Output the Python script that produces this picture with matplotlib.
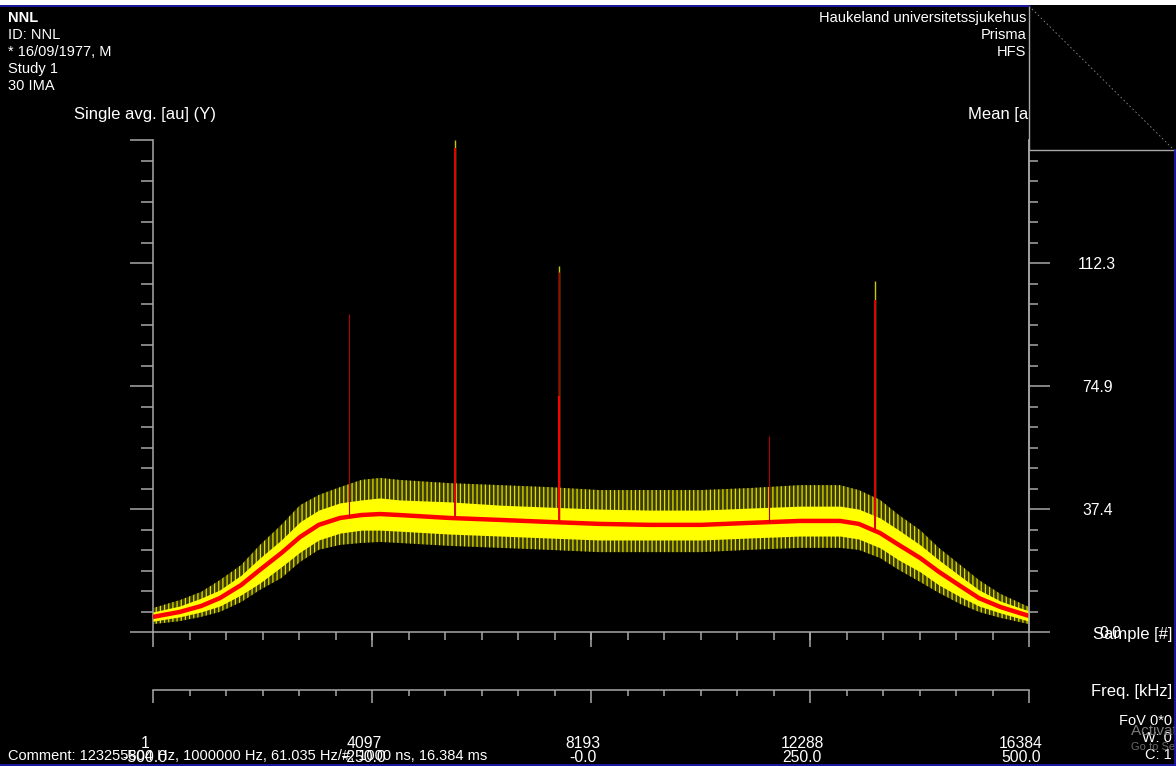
import numpy as np
import matplotlib
matplotlib.use("Agg")
import matplotlib.pyplot as plt
from matplotlib.patches import Rectangle
from matplotlib.lines import Line2D
from matplotlib.ticker import FixedLocator, NullFormatter
from matplotlib.transforms import ScaledTranslation

plt.rcParams['font.family'] = ['Liberation Sans', 'DejaVu Sans']
plt.rcParams['hatch.linewidth'] = 0.9

W, H = 1176, 766

# ---- data -------------------------------------------------------------
sample_pts = [1, 500, 900, 1250, 1650, 2000, 2400, 2750, 3100, 3500, 3900,
              4250, 4600, 5550, 6500, 7400, 8350, 9300, 10250, 11150, 12100,
              12850, 13200, 13600, 13950, 14350, 14700, 15100, 15450, 15850,
              16384]
mean_vals = [4.6, 6.1, 7.9, 10.3, 14.3, 18.9, 24.0, 28.9, 32.6, 34.7, 35.6,
             35.9, 35.6, 34.7, 34.1, 33.5, 32.9, 32.6, 32.6, 33.2, 33.8,
             33.8, 32.9, 30.1, 26.5, 22.5, 18.3, 14.0, 10.3, 7.6, 4.9]
single_core_hi = [6.1, 7.9, 10.3, 12.8, 17.3, 22.5, 28.0, 33.5, 37.1, 39.3, 40.2,
                  40.8, 40.2, 39.6, 38.6, 38.0, 37.4, 37.1, 37.1, 37.7, 38.3,
                  38.3, 37.4, 34.7, 31.0, 26.5, 21.9, 17.0, 12.8, 9.4, 6.4]
single_core_lo = [3.3, 4.6, 6.1, 7.9, 11.3, 14.9, 19.8, 24.3, 28.0, 30.1, 31.0,
                  31.0, 30.7, 29.8, 29.2, 28.6, 28.0, 28.0, 28.0, 28.6, 29.2,
                  29.2, 28.3, 25.6, 21.9, 18.3, 14.3, 10.7, 7.9, 5.8, 3.3]
single_max = [7.3, 9.7, 12.2, 15.8, 20.4, 26.5, 32.6, 38.6, 41.7, 44.1, 46.3,
              46.9, 46.3, 45.3, 44.7, 44.1, 43.2, 43.2, 43.2, 43.8, 44.7,
              44.7, 43.2, 40.2, 35.6, 31.0, 25.6, 20.4, 15.8, 11.6, 7.6]
single_min = [2.4, 3.3, 4.6, 6.1, 9.1, 12.8, 16.4, 21.3, 25.0, 26.5, 27.1,
              27.4, 27.1, 26.2, 25.6, 25.0, 24.3, 24.3, 24.3, 25.0, 25.6,
              25.6, 25.0, 22.5, 18.9, 15.2, 11.9, 8.5, 6.1, 4.3, 2.4]

# isolated outliers
single_spike_samples = [5649, 7594, 13504]
single_spike_vals = [149.7, 111.4, 106.8]
mean_spike_samples = [3667, 5649, 7594, 7600, 11522, 13504]
mean_spike_vals = [96.8, 147.3, 109.5, 71.8, 59.6, 101.0]

sample_ticks = [1, 4097, 8193, 12288, 16384]
sample_labels = ['1', '4097', '8193', '12288', '16384']
freq_ticks = [-500, -250, 0, 250, 500]
freq_labels = ['-500.0', '-250.0', '-0.0', '250.0', '500.0']
y_major = [0.0, 37.43, 74.86, 112.29, 149.72]
y_labels = ['0.0', '37.4', '74.9', '112.3', '']

header_left = ['NNL', 'ID: NNL', '* 16/09/1977, M', 'Study 1', '30 IMA']
header_right = ['Haukeland universitetssjukehus', 'Prisma', 'HFS']
footer_right = ['FoV 0*0', 'W: 0', 'C: 1']
comment = 'Comment: 123255804 Hz, 1000000 Hz, 61.035 Hz/#, 1000 ns, 16.384 ms'

# ---- helpers ----------------------------------------------------------
def fx(x):
    return x / W


def fy(y):
    return 1 - y / H


GREY = '#a8a8a8'
BLUE = '#1a1aa8'

fig = plt.figure(figsize=(W / 100, H / 100), dpi=100, facecolor='black')


def shift_px(artist, dx, dy=0):
    artist.set_transform(artist.get_transform() +
                         ScaledTranslation(dx / 100, dy / 100,
                                           fig.dpi_scale_trans))


# ---- main plot --------------------------------------------------------
ax = fig.add_axes([fx(153), fy(632), (1029 - 153) / W, (632 - 140) / H])
ax.set_facecolor('black')
ax.set_xlim(1, 16384)
ax.set_ylim(0, 149.72)

# noisy single-average trace: sparse outer envelope + dense core
ax.fill_between(sample_pts, single_min, single_max, facecolor='#3c3c00',
                edgecolor='#e0e000', hatch='||||', lw=0, zorder=2)
ax.fill_between(sample_pts, single_core_lo, single_core_hi, color='#ffff00',
                lw=0, zorder=3)

base_single = np.interp(single_spike_samples, sample_pts, mean_vals)
ax.vlines(single_spike_samples, base_single, single_spike_vals,
          color='#c8c800', lw=1.0, zorder=4)

ax.plot(sample_pts, mean_vals, color='#ff0000', lw=3.2, zorder=5,
        solid_capstyle='butt')

base_mean = np.interp(mean_spike_samples, sample_pts, mean_vals)
mean_spike_lw = [0.8, 1.4, 1.0, 1.4, 0.8, 1.4]
mean_spike_col = ['#b00000', '#e00000', '#b00000', '#ff0000', '#b00000', '#e00000']
ax.vlines(mean_spike_samples, base_mean, mean_spike_vals,
          color=mean_spike_col, lw=mean_spike_lw, zorder=6)

ax.spines['top'].set_visible(False)
for s in ['left', 'bottom', 'right']:
    ax.spines[s].set_color(GREY)
    ax.spines[s].set_linewidth(1.1)

ax.xaxis.set_major_locator(FixedLocator(sample_ticks))
ax.xaxis.set_minor_locator(FixedLocator(np.linspace(1, 16384, 25)))
ax.set_xticklabels(sample_labels)
ax.yaxis.set_major_locator(FixedLocator(y_major))
ax.yaxis.set_minor_locator(FixedLocator(np.linspace(0, 149.72, 25)))
ax.yaxis.set_major_formatter(NullFormatter())

ax.tick_params(axis='x', which='major', direction='out', length=10.8,
               width=1.1, color=GREY, labelcolor='white', labelsize=11.3,
               pad=64)
ax.tick_params(axis='x', which='minor', direction='out', length=5.8,
               width=1.1, color=GREY)
ax.tick_params(axis='y', which='major', direction='out', length=16.6,
               width=1.1, color=GREY)
ax.tick_params(axis='y', which='minor', direction='out', length=8.6,
               width=1.1, color=GREY)
for lab in ax.get_xticklabels():
    shift_px(lab, -8)

axr = ax.twinx()
axr.set_ylim(0, 149.72)
for s in ['top', 'left', 'bottom']:
    axr.spines[s].set_visible(False)
axr.spines['right'].set_color(GREY)
axr.spines['right'].set_linewidth(1.1)
axr.yaxis.set_major_locator(FixedLocator(y_major))
axr.yaxis.set_minor_locator(FixedLocator(np.linspace(0, 149.72, 25)))
axr.set_yticklabels(y_labels)
axr.tick_params(axis='y', which='major', direction='out', length=15.1,
                width=1.1, color=GREY, labelcolor='white', labelsize=11.3,
                pad=34)
for lab in axr.get_yticklabels():
    lab.set_horizontalalignment('center')
shift_px(axr.get_yticklabels()[0], 13)
axr.tick_params(axis='y', which='minor', direction='out', length=6.5,
                width=1.1, color=GREY)

# ---- frequency axis ---------------------------------------------------
axf = fig.add_axes([fx(153), fy(690), 876 / W, 0.0005])
axf.set_facecolor('none')
axf.set_xlim(-500, 500)
axf.set_yticks([])
for s in ['top', 'left', 'right']:
    axf.spines[s].set_visible(False)
axf.spines['bottom'].set_color(GREY)
axf.spines['bottom'].set_linewidth(1.1)
axf.xaxis.set_major_locator(FixedLocator(freq_ticks))
axf.xaxis.set_minor_locator(FixedLocator(np.linspace(-500, 500, 25)))
axf.set_xticklabels(freq_labels)
axf.tick_params(axis='x', which='major', direction='out', length=9.4,
                width=1.1, color=GREY, labelcolor='white', labelsize=11.3,
                pad=34)
axf.tick_params(axis='x', which='minor', direction='out', length=4.3,
                width=1.1, color=GREY)
for lab in axf.get_xticklabels():
    shift_px(lab, -8)

# ---- annotation text --------------------------------------------------
TS = 10.5
for i, line in enumerate(header_left):
    fig.text(fx(8), fy(22 + 17 * i), line, color='white', fontsize=TS,
             fontweight='bold' if i == 0 else 'normal', va='baseline')
for i, line in enumerate(header_right):
    fig.text(fx(1026), fy(22 + 17 * i), line, color='white', fontsize=TS,
             ha='right', va='baseline')

fig.text(fx(74), fy(119), 'Single avg. [au] (Y)', color='white', fontsize=12,
         va='baseline')
fig.text(fx(968), fy(119), 'Mean [au] (Y)', color='white', fontsize=12,
         va='baseline')
fig.text(fx(1172), fy(639), 'Sample [#]', color='white', fontsize=12,
         ha='right', va='baseline')
fig.text(fx(1172), fy(696), 'Freq. [kHz]', color='white', fontsize=12,
         ha='right', va='baseline')
for i, line in enumerate(footer_right):
    fig.text(fx(1172), fy(725 + 17 * i), line, color='white', fontsize=TS,
             ha='right', va='baseline')
fig.text(fx(1131), fy(735), 'Activate Windows', color='#7a7a7a',
         fontsize=11, va='baseline', zorder=20)
fig.text(fx(1131), fy(750), 'Go to Settings to activate Windows.',
         color='#6a6a6a', fontsize=8, va='baseline', zorder=20)
fig.text(fx(8), fy(760), comment, color='white', fontsize=TS, va='baseline',
         zorder=15)

# ---- frame decorations ------------------------------------------------
fig.patches.append(Rectangle((0, fy(5)), 1, 5 / H, transform=fig.transFigure,
                             facecolor='white', edgecolor='none', zorder=30))
fig.patches.append(Rectangle((fx(1029), fy(150)), (W - 1029) / W, 144 / H,
                             transform=fig.transFigure, facecolor='black',
                             edgecolor='none', zorder=25))
fig.lines.append(Line2D([fx(1029), fx(1029), fx(1176)],
                        [fy(6), fy(150), fy(150)], transform=fig.transFigure,
                        color=GREY, lw=1.0, zorder=26))
fig.lines.append(Line2D([fx(1029), fx(1174)], [fy(6), fy(150)],
                        transform=fig.transFigure, color='#8a8a8a', lw=0.6,
                        ls=(0, (2, 3)), zorder=26))
fig.lines.append(Line2D([0, fx(1029)], [fy(5.8), fy(5.8)],
                        transform=fig.transFigure, color=BLUE, lw=1.3,
                        zorder=31))
fig.lines.append(Line2D([0, 1], [fy(765), fy(765)], transform=fig.transFigure,
                        color=BLUE, lw=1.3, zorder=31))
fig.lines.append(Line2D([fx(1175), fx(1175)], [fy(150), 0],
                        transform=fig.transFigure, color=BLUE, lw=1.3,
                        zorder=31))

fig.savefig('out.png', dpi=100, facecolor='black')
